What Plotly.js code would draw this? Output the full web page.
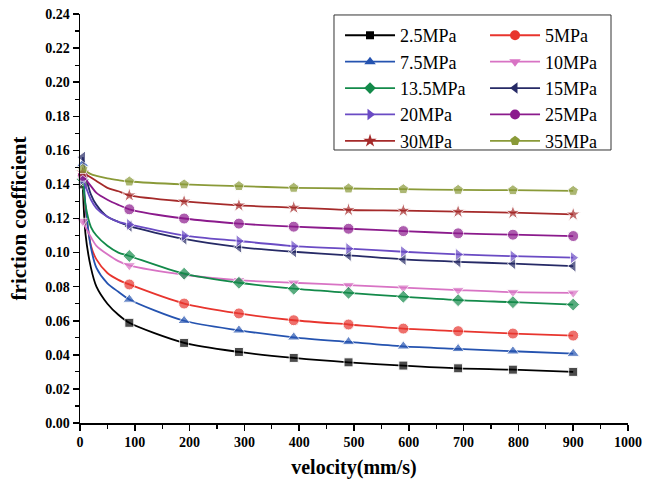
<!DOCTYPE html>
<html>
<head>
<meta charset="utf-8">
<script src="https://cdn.plot.ly/plotly-3.0.1.min.js"></script>
<style>html,body{margin:0;padding:0;background:#fff;}#chart{width:647px;height:488px;}</style>
</head>
<body>
<div id="chart"></div>
<script>
// velocity (mm/s); markers drawn only at the measured points
var velocity = [5, 10, 20, 30, 50, 70, 90, 190, 290, 390, 490, 590, 690, 790, 900];
var marked   = [1, 0, 0, 0, 0, 0, 1, 1, 1, 1, 1, 1, 1, 1, 1];

var seriesNames = ["2.5MPa", "5MPa", "7.5MPa", "10MPa", "13.5MPa", "15MPa", "20MPa", "25MPa", "30MPa", "35MPa"];

var f2_5  = [0.140, 0.111, 0.091, 0.080, 0.070, 0.0635, 0.0588, 0.0470, 0.0417, 0.0382, 0.0356, 0.0337, 0.0321, 0.0313, 0.0300];
var f5    = [0.145, 0.126, 0.104, 0.096, 0.088, 0.0840, 0.0813, 0.0701, 0.0643, 0.0603, 0.0578, 0.0554, 0.0539, 0.0525, 0.0513];
var f7_5  = [0.152, 0.128, 0.103, 0.091, 0.082, 0.0770, 0.0725, 0.0600, 0.0544, 0.0503, 0.0476, 0.0450, 0.0435, 0.0421, 0.0407];
var f10   = [0.1185, 0.115, 0.109, 0.104, 0.099, 0.0950, 0.0925, 0.0870, 0.0838, 0.0823, 0.0809, 0.0794, 0.0780, 0.0768, 0.0764];
var f13_5 = [0.143, 0.128, 0.115, 0.110, 0.104, 0.1000, 0.0980, 0.0876, 0.0823, 0.0788, 0.0764, 0.0741, 0.0721, 0.0709, 0.0695];
var f15   = [0.156, 0.146, 0.134, 0.128, 0.121, 0.1180, 0.1155, 0.1080, 0.1032, 0.1005, 0.0984, 0.0960, 0.0946, 0.0935, 0.0921];
var f20   = [0.143, 0.139, 0.131, 0.126, 0.121, 0.1180, 0.1165, 0.1100, 0.1068, 0.1038, 0.1023, 0.1005, 0.0989, 0.0979, 0.0970];
var f25   = [0.145, 0.143, 0.139, 0.135, 0.131, 0.1280, 0.1254, 0.1200, 0.1170, 0.1152, 0.1140, 0.1126, 0.1113, 0.1105, 0.1097];
var f30   = [0.147, 0.146, 0.144, 0.142, 0.138, 0.1360, 0.1336, 0.1300, 0.1277, 0.1264, 0.1250, 0.1246, 0.1240, 0.1234, 0.1224];
var f35   = [0.149, 0.148, 0.146, 0.145, 0.1435, 0.1425, 0.1417, 0.1400, 0.1390, 0.1380, 0.1376, 0.1372, 0.1368, 0.1366, 0.1362];

var seriesValues = [f2_5, f5, f7_5, f10, f13_5, f15, f20, f25, f30, f35];
var colors  = ["#000000", "#e8352e", "#2553b0", "#d873c4", "#138a4a", "#262a66", "#6a4bc4", "#8b1a8c", "#a52a2a", "#8a9a38"];
var symbols = ["square", "circle", "triangle-up", "triangle-down", "diamond", "triangle-left", "triangle-right", "circle", "star", "pentagon"];
var sizes   = [9, 11, 11, 11, 10, 11, 11, 11, 11, 11];

var serif = "Liberation Serif, Times New Roman, serif";
var traces = [];
seriesValues.forEach(function (vals, i) {
  traces.push({
    x: velocity, y: vals, type: "scatter", mode: "lines+markers",
    line: {color: colors[i], width: 1.8, shape: "spline", smoothing: 0.8},
    marker: {symbol: symbols[i], color: colors[i],
             size: marked.map(function (m) { return m ? sizes[i] : 0; })},
    cliponaxis: false, showlegend: false, hoverinfo: "x+y"
  });
});
// legend entries: two columns (left column in legend, right column in legend2)
seriesValues.forEach(function (vals, i) {
  traces.push({
    x: [null], y: [null], type: "scatter", mode: "lines+markers", name: seriesNames[i],
    line: {color: colors[i], width: 1.8},
    marker: {symbol: symbols[i], color: colors[i], size: sizes[i] - 1},
    showlegend: true, legend: (i % 2 === 0) ? "legend" : "legend2"
  });
});

var legendStyle = function (xpos) {
  return {
    orientation: "v", x: xpos, xanchor: "left", y: 0.9925, yanchor: "top",
    itemwidth: 50, bgcolor: "rgba(0,0,0,0)", borderwidth: 0, tracegroupgap: 0,
    font: {family: serif, size: 18, color: "#000"}
  };
};

var layout = {
  width: 647, height: 488,
  margin: {l: 80, r: 19, t: 14, b: 65},
  paper_bgcolor: "#ffffff", plot_bgcolor: "#ffffff",
  showlegend: true,
  legend: legendStyle(0.4745),
  legend2: legendStyle(0.7391),
  shapes: [{
    type: "rect", xref: "paper", yref: "paper", layer: "above",
    x0: 0.4635, x1: 0.969, y0: 0.6675, y1: 0.9976,
    line: {color: "#333333", width: 1}, fillcolor: "#ffffff"
  }],
  xaxis: {
    range: [0, 1000], dtick: 100, tick0: 0,
    showline: true, linecolor: "#000", linewidth: 1.5, mirror: false,
    ticks: "outside", ticklen: 6, tickwidth: 1.5, tickcolor: "#000",
    minor: {dtick: 50, ticks: "outside", ticklen: 4, tickwidth: 1.2, tickcolor: "#000"},
    showgrid: false, zeroline: false,
    tickfont: {family: serif, size: 14, color: "#000", weight: "bold"},
    title: {text: "velocity(mm/s)", font: {family: serif, size: 20, color: "#000", weight: "bold"}, standoff: 10}
  },
  yaxis: {
    range: [0, 0.24], dtick: 0.02, tick0: 0, tickformat: ".2f",
    showline: true, linecolor: "#000", linewidth: 1.5, mirror: false,
    ticks: "outside", ticklen: 6, tickwidth: 1.5, tickcolor: "#000",
    minor: {dtick: 0.01, ticks: "outside", ticklen: 4, tickwidth: 1.2, tickcolor: "#000"},
    showgrid: false, zeroline: false,
    tickfont: {family: serif, size: 14, color: "#000", weight: "bold"},
    title: {text: "friction coefficient", font: {family: serif, size: 21, color: "#000", weight: "bold"}, standoff: 13}
  }
};

Plotly.newPlot("chart", traces, layout, {displayModeBar: false, staticPlot: true});
</script>
</body>
</html>
